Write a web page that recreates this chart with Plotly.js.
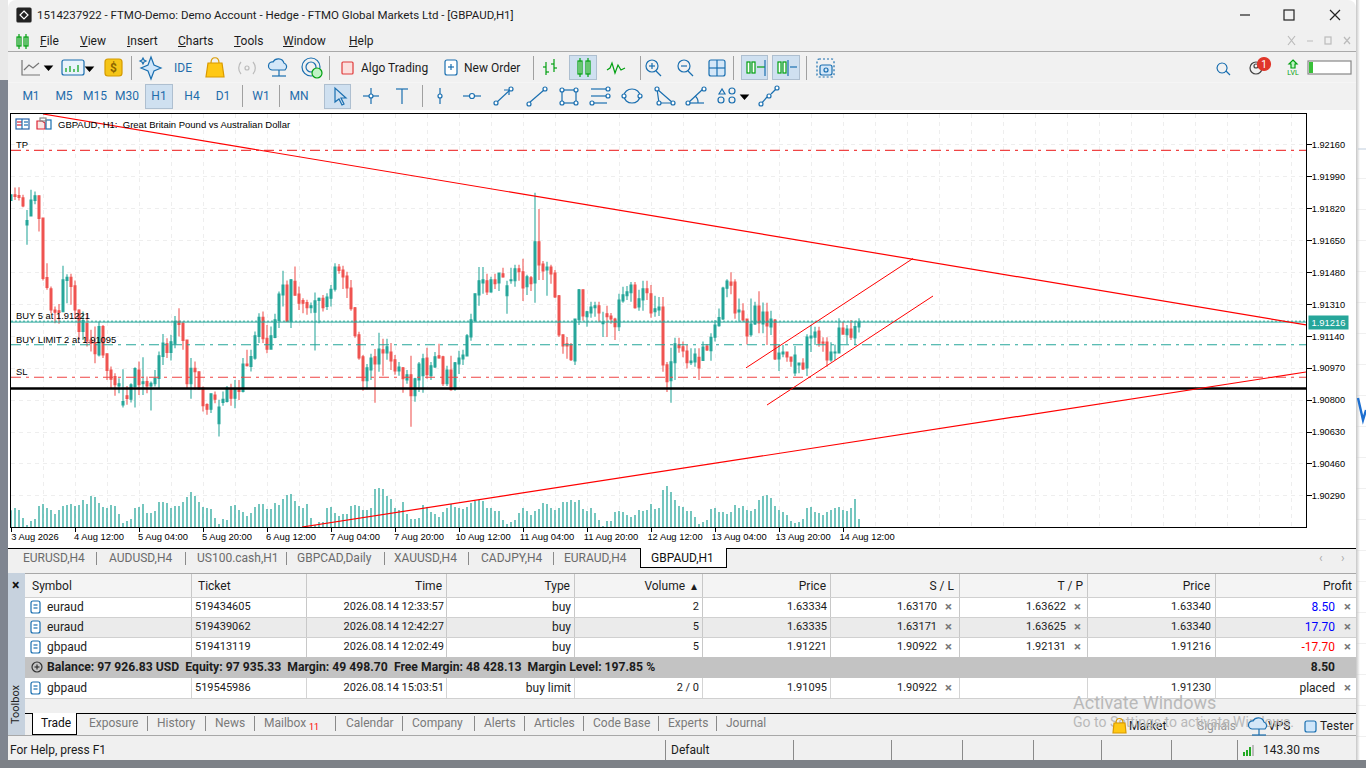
<!DOCTYPE html>
<html><head><meta charset="utf-8">
<script src="https://cdn.plot.ly/plotly-3.0.1.min.js"></script>
<style>
html,body{margin:0;padding:0;width:1366px;height:768px;overflow:hidden;background:#fff;font-family:Roboto,"Liberation Sans",sans-serif;}
#plot{position:absolute;left:0;top:0;width:1366px;height:768px;z-index:2;}
#chrome{position:absolute;left:0;top:0;width:1366px;height:768px;z-index:1;}
#over{position:absolute;left:0;top:0;width:1366px;height:768px;z-index:3;pointer-events:none;}
.b{position:absolute;}
.t{position:absolute;white-space:nowrap;line-height:14px;color:#1c1c1c;font-size:12px;}
</style></head><body>
<div id="chrome"></div><div id="plot"></div><div id="over"></div>
<script>
const openPrices=[1.91864,1.91894,1.91890,1.91878,1.91734,1.91782,1.91864,1.91889,1.91770,1.91454,
1.91393,1.91281,1.91276,1.91271,1.91438,1.91455,1.91409,1.91281,1.91166,1.91210,
1.91121,1.91107,1.91041,1.91192,1.91047,1.90961,1.90926,1.90876,1.90775,1.90823,
1.90805,1.90873,1.90961,1.90887,1.90899,1.90876,1.90887,1.90915,1.91033,1.91100,
1.91054,1.91100,1.91221,1.91210,1.91121,1.90887,1.90970,1.90951,1.90864,1.90777,
1.90752,1.90828,1.90674,1.90787,1.90793,1.90858,1.90810,1.90858,1.90846,1.90993,
1.90979,1.91024,1.91139,1.91242,1.91130,1.91072,1.91134,1.91224,1.91361,1.91414,
1.91221,1.91434,1.91366,1.91331,1.91320,1.91292,1.91269,1.91331,1.91343,1.91299,
1.91343,1.91391,1.91509,1.91494,1.91462,1.91398,1.91292,1.91148,1.91031,1.90903,
1.90961,1.91031,1.90993,1.91068,1.91052,1.91057,1.91015,1.90956,1.90972,1.90908,
1.90935,1.90823,1.90908,1.90930,1.91025,1.90930,1.90977,1.91036,1.91031,1.90887,
1.90961,1.90860,1.90993,1.91020,1.91036,1.91137,1.91223,1.91361,1.91425,1.91436,
1.91377,1.91441,1.91425,1.91473,1.91356,1.91436,1.91436,1.91500,1.91484,1.91404,
1.91452,1.91425,1.91644,1.91526,1.91494,1.91510,1.91478,1.91356,1.91148,1.91100,
1.91095,1.91009,1.91228,1.91388,1.91244,1.91265,1.91292,1.91303,1.91207,1.91260,
1.91249,1.91233,1.91191,1.91329,1.91356,1.91372,1.91414,1.91297,1.91334,1.91393,
1.91367,1.91271,1.91281,1.91297,1.90988,1.90903,1.90999,1.91095,1.91085,1.91062,
1.91000,1.91003,1.91028,1.91012,1.91088,1.91064,1.91135,1.91197,1.91232,1.91396,
1.91429,1.91429,1.91270,1.91275,1.91232,1.91149,1.91206,1.91302,1.91206,1.91270,
1.91190,1.91227,1.91019,1.91046,1.91056,1.91030,1.90945,1.90987,1.90998,1.90971,
1.91131,1.91136,1.91168,1.91110,1.91110,1.91014,1.91051,1.91051,1.91184,1.91149,
1.91179,1.91131,1.91190];
const closePrices=[1.91894,1.91885,1.91880,1.91835,1.91757,1.91867,1.91889,1.91768,1.91448,1.91400,
1.91281,1.91269,1.91267,1.91441,1.91455,1.91406,1.91281,1.91166,1.91224,1.91116,
1.91104,1.91047,1.91192,1.91041,1.90958,1.90912,1.90882,1.90887,1.90793,1.90809,
1.90882,1.90969,1.90882,1.90898,1.90876,1.90890,1.90917,1.91036,1.91104,1.91054,
1.91111,1.91221,1.91203,1.91118,1.90887,1.90970,1.90951,1.90860,1.90770,1.90752,
1.90834,1.90805,1.90763,1.90805,1.90864,1.90810,1.90858,1.90846,1.90993,1.90983,
1.91033,1.91143,1.91242,1.91128,1.91072,1.91143,1.91228,1.91366,1.91414,1.91221,
1.91441,1.91359,1.91317,1.91317,1.91292,1.91303,1.91329,1.91343,1.91292,1.91349,
1.91391,1.91509,1.91491,1.91457,1.91398,1.91287,1.91143,1.91025,1.90903,1.90972,
1.91025,1.90993,1.91073,1.91052,1.91084,1.91009,1.90956,1.90977,1.90914,1.90935,
1.90823,1.90914,1.90993,1.91020,1.90935,1.90983,1.91031,1.91025,1.90887,1.90961,
1.90855,1.90999,1.91025,1.91041,1.91143,1.91228,1.91367,1.91436,1.91441,1.91377,
1.91441,1.91420,1.91478,1.91457,1.91409,1.91441,1.91500,1.91484,1.91398,1.91457,
1.91420,1.91644,1.91521,1.91489,1.91510,1.91473,1.91350,1.91148,1.91089,1.91089,
1.91015,1.91233,1.91388,1.91249,1.91271,1.91297,1.91303,1.91265,1.91217,1.91244,
1.91233,1.91191,1.91334,1.91361,1.91377,1.91414,1.91292,1.91340,1.91393,1.91372,
1.91265,1.91287,1.91297,1.90988,1.90898,1.91004,1.91100,1.91079,1.91062,1.91000,
1.91008,1.91046,1.90971,1.91083,1.91067,1.91135,1.91200,1.91241,1.91398,1.91435,
1.91412,1.91264,1.91280,1.91227,1.91142,1.91206,1.91302,1.91211,1.91270,1.91195,
1.91232,1.91019,1.91051,1.91056,1.91030,1.91008,1.91040,1.90998,1.90966,1.91136,
1.91142,1.91163,1.91104,1.91104,1.91014,1.91056,1.91056,1.91184,1.91152,1.91179,
1.91136,1.91193,1.91216];
const highPrices=[1.91894,1.91933,1.91935,1.91894,1.91814,1.91921,1.91912,1.91889,1.91770,1.91530,
1.91406,1.91299,1.91313,1.91516,1.91471,1.91473,1.91438,1.91285,1.91272,1.91263,
1.91175,1.91192,1.91219,1.91201,1.91050,1.90979,1.90944,1.90917,1.90965,1.90876,
1.90890,1.90976,1.91006,1.91029,1.90926,1.90899,1.90961,1.91059,1.91153,1.91130,
1.91148,1.91249,1.91290,1.91219,1.91121,1.91024,1.91006,1.90953,1.90873,1.90784,
1.90837,1.90846,1.90802,1.90846,1.90876,1.90887,1.90908,1.90908,1.91024,1.91068,
1.91068,1.91166,1.91263,1.91272,1.91201,1.91192,1.91260,1.91379,1.91489,1.91438,
1.91446,1.91512,1.91406,1.91343,1.91335,1.91320,1.91374,1.91347,1.91361,1.91370,
1.91414,1.91530,1.91526,1.91516,1.91484,1.91441,1.91297,1.91164,1.91041,1.90993,
1.91047,1.91072,1.91159,1.91127,1.91127,1.91105,1.91041,1.91004,1.90977,1.90961,
1.91036,1.90919,1.91004,1.91047,1.91079,1.91004,1.91057,1.91100,1.91036,1.90983,
1.91036,1.91004,1.91063,1.91068,1.91153,1.91260,1.91367,1.91510,1.91510,1.91473,
1.91457,1.91473,1.91478,1.91505,1.91436,1.91505,1.91521,1.91521,1.91553,1.91468,
1.91462,1.91905,1.91819,1.91542,1.91537,1.91521,1.91494,1.91361,1.91148,1.91137,
1.91105,1.91233,1.91393,1.91388,1.91276,1.91324,1.91324,1.91324,1.91271,1.91303,
1.91265,1.91239,1.91367,1.91404,1.91409,1.91430,1.91430,1.91388,1.91436,1.91436,
1.91414,1.91356,1.91350,1.91350,1.91004,1.91079,1.91132,1.91132,1.91112,1.91094,
1.91076,1.91076,1.91076,1.91112,1.91099,1.91156,1.91227,1.91289,1.91405,1.91444,
1.91481,1.91444,1.91342,1.91316,1.91232,1.91342,1.91325,1.91380,1.91321,1.91319,
1.91277,1.91232,1.91094,1.91094,1.91058,1.91032,1.91088,1.91001,1.91023,1.91151,
1.91200,1.91191,1.91191,1.91135,1.91135,1.91108,1.91097,1.91236,1.91218,1.91200,
1.91227,1.91223,1.91236];
const lowPrices=[1.91864,1.91867,1.91864,1.91828,1.91628,1.91782,1.91844,1.91699,1.91438,1.91388,
1.91263,1.91210,1.91207,1.91271,1.91317,1.91308,1.91232,1.91121,1.91121,1.91086,
1.91059,1.90997,1.91033,1.91024,1.90908,1.90864,1.90823,1.90837,1.90761,1.90775,
1.90787,1.90761,1.90828,1.90828,1.90837,1.90745,1.90873,1.90864,1.90988,1.91024,
1.91011,1.91077,1.91139,1.91068,1.90864,1.90807,1.90855,1.90855,1.90739,1.90722,
1.90731,1.90784,1.90606,1.90770,1.90787,1.90770,1.90757,1.90801,1.90841,1.90979,
1.90953,1.91015,1.91104,1.91104,1.91050,1.91068,1.91130,1.91184,1.91299,1.91217,
1.91185,1.91356,1.91281,1.91263,1.91255,1.91263,1.91065,1.91210,1.91272,1.91281,
1.91299,1.91379,1.91473,1.91393,1.91345,1.91276,1.91132,1.91015,1.90850,1.90858,
1.90908,1.90786,1.90951,1.90930,1.91015,1.90961,1.90935,1.90930,1.90839,1.90887,
1.90658,1.90791,1.90844,1.90839,1.90914,1.90908,1.90972,1.91020,1.90876,1.90876,
1.90850,1.90850,1.90940,1.90988,1.91036,1.91116,1.91217,1.91303,1.91367,1.91361,
1.91372,1.91393,1.91382,1.91452,1.91260,1.91420,1.91404,1.91436,1.91329,1.91361,
1.91382,1.91319,1.91441,1.91441,1.91356,1.91420,1.91345,1.91137,1.91047,1.91020,
1.91009,1.90988,1.91201,1.91223,1.91191,1.91239,1.91244,1.91217,1.91137,1.91137,
1.91207,1.91121,1.91169,1.91319,1.91334,1.91324,1.91287,1.91276,1.91276,1.91334,
1.91239,1.91244,1.91249,1.90951,1.90844,1.90786,1.90908,1.91052,1.91028,1.90969,
1.90987,1.90978,1.90907,1.91012,1.91062,1.91010,1.91112,1.91191,1.91227,1.91348,
1.91364,1.91234,1.91218,1.91218,1.91097,1.91138,1.91200,1.91156,1.91156,1.91094,
1.91147,1.91014,1.90955,1.91028,1.91005,1.90978,1.90929,1.90943,1.90961,1.90929,
1.91056,1.91094,1.91085,1.91058,1.90978,1.91005,1.91014,1.91048,1.91151,1.91099,
1.91120,1.91094,1.91161];
const tickVolumes=[500,570,510,270,60,180,240,630,690,570,
510,390,510,630,660,690,630,660,810,690,
930,900,720,600,570,660,630,390,120,180,
240,570,600,690,420,420,480,750,750,720,
570,630,630,750,900,1050,930,750,600,570,
540,270,90,240,210,630,660,510,450,330,
420,600,690,690,540,540,720,660,840,960,
990,780,630,570,690,270,60,150,150,570,
600,420,330,390,390,630,660,630,510,510,
570,1140,1170,1140,930,840,570,510,750,390,
240,240,270,660,600,450,390,300,450,570,
690,600,570,540,600,720,780,810,780,570,
570,480,480,210,90,150,210,420,570,480,
360,480,540,720,690,570,510,570,750,750,
810,750,810,540,480,570,420,210,30,180,
180,450,480,450,360,300,360,510,480,510,
690,540,570,1110,1230,1050,810,630,600,480,
480,300,90,150,210,540,570,450,450,390,
450,660,570,630,510,480,540,810,930,960,
870,630,510,450,360,180,120,150,240,570,
600,450,420,360,450,510,570,600,510,480,
570,840,240];
const barIndex=openPrices.map((_,i)=>i);
const timeTickBars=[0,16,32,48,64,80,96,112,128,144,160,176,192,208];
const timeTickLabels=['3 Aug 2026','4 Aug 12:00','5 Aug 04:00','5 Aug 20:00','6 Aug 12:00','7 Aug 04:00','7 Aug 20:00','10 Aug 12:00','11 Aug 04:00','11 Aug 20:00','12 Aug 12:00','13 Aug 04:00','13 Aug 20:00','14 Aug 12:00'];
const priceTicks=[1.9216,1.9199,1.9182,1.9165,1.9148,1.9131,1.9114,1.9097,1.9080,1.9063,1.9046,1.9029];
const levelTP=1.92131, levelBuy=1.91221, levelBid=1.91216, levelLimit=1.91095, levelSL=1.90922, levelSupport=1.90862;
const levelSpan=[0,323.75];
const fallingTrendBars=[8,323.75], fallingTrendPrices=[1.92325,1.91201];
const risingTrendBars=[72.75,323.75], risingTrendPrices=[1.90124,1.90950];
const channelUpperBars=[183.75,225.5], channelUpperPrices=[1.90972,1.91555];
const channelLowerBars=[189,230.5], channelLowerPrices=[1.90774,1.91355];

const TEAL='#26a69a', RED='#ef5350';
const chartFont='"Liberation Sans",Arial,sans-serif';
function level(y,color,dash,width){return {type:'scatter',mode:'lines',x:levelSpan,y:[y,y],yaxis:'y2',hoverinfo:'skip',line:{color:color,dash:dash,width:width}};}
function trend(xs,ys,w){return {type:'scatter',mode:'lines',x:xs,y:ys,yaxis:'y2',hoverinfo:'skip',line:{color:'#ff0000',width:w}};}
const DD='10px,5px,3px,5px';
const traces=[
 {type:'bar',x:barIndex,y:tickVolumes,width:0.32,yaxis:'y',marker:{color:TEAL,line:{width:0}},hoverinfo:'skip'},
 {type:'candlestick',x:barIndex,open:openPrices,high:highPrices,low:lowPrices,close:closePrices,yaxis:'y2',
  width:0.5,whiskerwidth:0,hoverinfo:'skip',
  increasing:{line:{color:TEAL,width:1.05},fillcolor:TEAL},decreasing:{line:{color:RED,width:1.05},fillcolor:RED}},
 level(levelTP,'#ef4444',DD,1.1),
 level(levelSL,'#ef4444',DD,1.1),
 level(levelLimit,TEAL,DD,1.1),
 level(levelBuy,TEAL,'2px,2px',1),
 level(levelBid,TEAL,'solid',1),
 level(levelSupport,'#000000','solid',2.4),
 trend(fallingTrendBars,fallingTrendPrices,1.2),
 trend(risingTrendBars,risingTrendPrices,1.2),
 trend(channelUpperBars,channelUpperPrices,1),
 trend(channelLowerBars,channelLowerPrices,1)
];
function lvlNote(text,y){return {text:text,xref:'paper',x:0.0032,xanchor:'left',yref:'y2',y:y,yanchor:'bottom',yshift:-1,showarrow:false,borderpad:0,font:{family:chartFont,size:9.4,color:'#000'}};}
const layout={
 width:1366,height:768,showlegend:false,hovermode:false,dragmode:false,
 paper_bgcolor:'rgba(0,0,0,0)',plot_bgcolor:'#ffffff',
 margin:{l:11,r:60,t:114,b:241,pad:0},
 font:{family:chartFont,size:10,color:'#000'},
 xaxis:{range:levelSpan,type:'linear',tickmode:'array',tickvals:timeTickBars,ticktext:timeTickLabels,
  ticks:'outside',ticklen:4,tickcolor:'#000',tickwidth:1,ticklabelshift:24,ticklabelstandoff:-3,tickangle:0,
  showline:true,linecolor:'#000',linewidth:1,mirror:true,zeroline:false,
  showgrid:true,gridcolor:'#eeeeee',griddash:'4px,4px',gridwidth:1,
  minor:{tickmode:'linear',tick0:0,dtick:8,showgrid:true,gridcolor:'#eeeeee',griddash:'4px,4px',ticks:''},
  rangeslider:{visible:false},fixedrange:true,tickfont:{family:chartFont,size:9.4,color:'#000'}},
 yaxis:{range:[0,12390],visible:false,showgrid:false,zeroline:false,fixedrange:true},
 yaxis2:{range:[1.90124,1.92325],overlaying:'y',side:'right',tickmode:'array',tickvals:priceTicks,tickformat:'.5f',
  ticks:'outside',ticklen:5,tickcolor:'#000',showline:true,linecolor:'#000',mirror:true,zeroline:false,
  showgrid:true,gridcolor:'#eeeeee',griddash:'4px,4px',gridwidth:1,fixedrange:true,ticklabelstandoff:-2,
  tickfont:{family:chartFont,size:9.2,color:'#000'}},
 annotations:[
  {text:'GBPAUD, H1:  Great Britain Pound vs Australian Dollar',xref:'paper',x:0.0345,xanchor:'left',yref:'paper',y:0.9735,yanchor:'middle',showarrow:false,font:{family:chartFont,size:9.5,color:'#000'}},
  lvlNote('TP',levelTP),
  lvlNote('BUY 5 at 1.91221',levelBuy),
  lvlNote('BUY LIMIT 2 at 1.91095',levelLimit),
  lvlNote('SL',levelSL),
  {text:'1.91216',xref:'paper',x:1.0012,xanchor:'left',yref:'y2',y:levelBid,yanchor:'middle',showarrow:false,bgcolor:TEAL,borderpad:1,width:37,height:11,font:{family:chartFont,size:9.4,color:'#fff'}}
 ]
};
Plotly.newPlot('plot',traces,layout,{displayModeBar:false,staticPlot:true});

/* ---------- window chrome (real text, plain boxes) ---------- */
const C=document.getElementById('chrome'), O=document.getElementById('over');
function box(x,y,w,h,bg,extra,host){const d=document.createElement('div');d.className='b';d.style.cssText=`left:${x}px;top:${y}px;width:${w}px;height:${h}px;background:${bg};${extra||''}`;(host||C).appendChild(d);return d;}
function txt(x,yc,s,o){o=o||{};const d=document.createElement('div');d.className='t';
 let st=`top:${yc-7}px;`;
 if(o.right!==undefined)st+=`right:${1366-o.right}px;`;else st+=`left:${x}px;`;
 if(o.c)st+=`color:${o.c};`; if(o.s)st+=`font-size:${o.s}px;`; if(o.b)st+='font-weight:700;'; if(o.extra)st+=o.extra;
 d.style.cssText=st; d.innerHTML=s; (o.host||O).appendChild(d); return d;}
box(0,0,1366,768,'#ffffff');
box(0,0,8,80,'#e9e9e9'); box(0,80,8,688,'#7f8590');
box(1356,0,10,768,'#ffffff');
box(1356,148,10,620,'repeating-linear-gradient(to bottom,#fff 0 30px,#f0f0f0 30px 31px)');
box(1358,148,8,2,'#dfe6ee');
box(1356,0,4,768,'linear-gradient(to right,#c6c6c6,rgba(255,255,255,0))');
box(8,0,1348,110,'#f1f1f1','border-radius:8px 8px 0 0;');
box(8,30,1348,22,'#f0f0f0');
box(8,51,1348,1,'#a9a9a9');
box(8,110,1348,438,'#ffffff');
box(8,548,1348,212,'#f0f0f0');
box(0,760,1366,8,'#7d8187');
// chart tabs
box(8,548,1348,1,'#000');
const tabNames=['EURUSD,H4','AUDUSD,H4','US100.cash,H1','GBPCAD,Daily','XAUUSD,H4','CADJPY,H4','EURAUD,H4'];
const tabX=[23,109,197,297,394,481,564], tabSep=[96,185,286,384,468,553,640];
tabNames.forEach((n,i)=>{txt(tabX[i],558,n,{c:'#6b6b6b',s:12});box(tabSep[i],552,1,13,'#8a8a8a');});
box(640,548,87,20,'#ffffff','border:1px solid #000;border-top:none;box-sizing:border-box;');
txt(651,558,'GBPAUD,H1',{c:'#111',s:12});
txt(1319,558,'‹',{c:'#aaa',s:12});txt(1341,558,'›',{c:'#aaa',s:12});
// toolbox
box(8,573,17,162,'#c7d2de');
txt(12,585,'×',{c:'#111',s:14,b:1});
txt(-6,702,'Toolbox',{c:'#222',s:11,extra:'transform:rotate(-90deg);transform-origin:center;width:44px;'});
box(25,573,1331,125,'#ffffff');
box(25,573,1331,1,'#a8a8a8');
box(25,574,1331,23,'#f4f4f4');
const colEdges=[191,306,446,574,702,830,959,1087,1215];
const headers=['Symbol','Ticket','Time','Type','Volume &nbsp;▴','Price','S / L','T / P','Price','Profit'];
const headRight=[0,0,442,570,697,826,954,1083,1210,1352];
const rowsSymbol=['euraud','euraud','gbpaud','gbpaud'];
const rowsTicket=['519434605','519439062','519413119','519545986'];
const rowsTime=['2026.08.14 12:33:57','2026.08.14 12:42:27','2026.08.14 12:02:49','2026.08.14 15:03:51'];
const rowsType=['buy','buy','buy','buy limit'];
const rowsVolume=['2','5','5','2 / 0'];
const rowsOpen=['1.63334','1.63335','1.91221','1.91095'];
const rowsSL=['1.63170','1.63171','1.90922','1.90922'];
const rowsTP=['1.63622','1.63625','1.92131',''];
const rowsCurrent=['1.63340','1.63340','1.91216','1.91230'];
const rowsProfit=['8.50','17.70','-17.70','placed'];
const profitColors=['#0000ff','#0000ff','#ff0000','#222'];
const rowY=[607,627,647,688];
box(25,617,1331,20,'#ebebeb');
box(25,657,1331,21,'#c3c3c3');
colEdges.forEach(x=>box(x,574,1,83,'#c8c8c8'));
colEdges.forEach(x=>box(x,678,1,20,'#d4d4d4'));
[597,617,637,698].forEach(y=>box(25,y,1331,1,'#d0d0d0'));
txt(32,586,headers[0],{s:12}); txt(198,586,headers[1],{s:12});
for(let i=2;i<10;i++)txt(0,586,headers[i],{right:headRight[i],s:12});
const FS=11;
rowY.forEach((y,r)=>{
 txt(47,y,rowsSymbol[r],{s:12});
 txt(195,y,rowsTicket[r],{s:FS});
 txt(0,y,rowsTime[r],{right:444,s:FS});
 txt(0,y,rowsType[r],{right:571,s:12});
 txt(0,y,rowsVolume[r],{right:699,s:FS});
 txt(0,y,rowsOpen[r],{right:827,s:FS});
 txt(0,y,rowsSL[r],{right:937,s:FS});
 if(rowsTP[r])txt(0,y,rowsTP[r],{right:1066,s:FS});
 txt(0,y,rowsCurrent[r],{right:1211,s:FS});
 txt(0,y,rowsProfit[r],{right:1335,s:12,c:profitColors[r]});
 txt(945,y,'×',{c:'#777',s:13,b:1});
 if(rowsTP[r])txt(1074,y,'×',{c:'#777',s:13,b:1});
 txt(1344,y,'×',{c:'#777',s:13,b:1});
});
txt(47,667,'Balance: 97 926.83 USD &nbsp;Equity: 97 935.33 &nbsp;Margin: 49 498.70 &nbsp;Free Margin: 48 428.13 &nbsp;Margin Level: 197.85 %',{b:1,s:12.2});
txt(0,667,'8.50',{right:1335,b:1,s:12});
// bottom tabs
box(25,713,1331,1,'#000');
box(32,713,45,22,'#fff','border:1px solid #000;border-top:none;box-sizing:border-box;');
box(8,735,1348,1,'#a8a8a8');
txt(41,723,'Trade',{c:'#111',s:12});
const bottomTabs=['Exposure','History','News','Mailbox','Calendar','Company','Alerts','Articles','Code Base','Experts','Journal'];
const bottomX=[89,157,215,264,346,412,484,534,593,668,726];
const bottomSep=[147,205,254,335,402,474,524,583,658,716];
bottomTabs.forEach((n,i)=>txt(bottomX[i],723,n,{c:'#7a7a7a',s:12}));
bottomSep.forEach(x=>box(x,716,1,15,'#8a8a8a'));
txt(309,727,'11',{c:'#ff0000',s:9});
txt(1129,726,'Market',{s:12}); txt(1197,726,'Signals',{c:'#9a9a9a',s:12}); txt(1268,726,'VPS',{s:12}); txt(1320,726,'Tester',{s:12});
txt(1073,700,'Activate Windows',{c:'#b9b9b9',s:18,extra:'line-height:20px;'});
txt(1073,722,'Go to Settings to activate Windows.',{c:'#b9b9b9',s:14});
// status
txt(10,750,'For Help, press F1',{s:12});
txt(671,750,'Default',{s:12});
[665,793,891,962,1033,1101,1171,1237].forEach(x=>box(x,740,1,20,'#8a8a8a'));
txt(1263,750,'143.30 ms',{s:12});
// title + menu
txt(37,15,'1514237922 - FTMO-Demo: Demo Account - Hedge - FTMO Global Markets Ltd - [GBPAUD,H1]',{s:11.5});
const menuItems=['<u>F</u>ile','<u>V</u>iew','<u>I</u>nsert','<u>C</u>harts','<u>T</u>ools','<u>W</u>indow','<u>H</u>elp'];
const menuX=[40,80,127,178,234,283,349];
menuItems.forEach((m,i)=>txt(menuX[i],41,m,{s:12}));
// toolbars: highlights + text
[[145,84,28,25],[569,55,28,25],[741,55,27,25],[772,55,28,25],[324,84,27,25]].forEach(r=>box(r[0],r[1],r[2],r[3],'#cfe0f0','border:1px solid #aebfd0;box-sizing:border-box;'));
[131,329,533,640,733,806].forEach(x=>box(x,56,1,24,'#a0a0a0'));
[[242],[279],[422]].forEach(a=>box(a[0],85,1,22,'#a0a0a0'));
box(8,82,1348,1,'#f5f5f5');
const tfLabels=['M1','M5','M15','M30','H1','H4','D1','W1','MN'];
const tfCenter=[31,64,95,127,159,192,223,261,299];
tfLabels.forEach((l,i)=>{const d=txt(tfCenter[i]-20,96,l,{c:'#1f6cab',s:12});d.style.width='40px';d.style.textAlign='center';});
txt(174,68,'IDE',{c:'#1f6cab',s:12});
txt(361,68,'Algo Trading',{s:12});
txt(464,68,'New Order',{s:12});
// icons
const B='#1a6fb0',G='#00a010';
const L=(a,b,c,d,col,w)=>`<line x1="${a}" y1="${b}" x2="${c}" y2="${d}" stroke="${col||B}" stroke-width="${w||1.2}"/>`;
const R=(x,y,w,h,s,f,rx)=>`<rect x="${x}" y="${y}" width="${w}" height="${h}" stroke="${s||B}" fill="${f||'none'}" rx="${rx||0}" stroke-width="1.2"/>`;
const CI=(x,y,r,s,f)=>`<circle cx="${x}" cy="${y}" r="${r}" stroke="${s||B}" fill="${f||'none'}" stroke-width="1.2"/>`;
const P=(d,s,f,w)=>`<path d="${d}" stroke="${s||B}" fill="${f||'none'}" stroke-width="${w||1.2}"/>`;
let svg='';
svg+=R(17,8,14,14,'#222','#222',1)+P('M24 11l4 4-4 4-4-4z','#fff','#222');
svg+=R(17,37,4,9,G)+L(19,34,19,49,G)+R(24,37,4,9,G)+L(26,34,26,49,G);
svg+=P('M22 60v15h18M24 70l5-5 4 3 6-5','#777')+P('M45 66h7l-3.5 4z','#000','#000');
svg+=R(62,60,22,15,B,'#eaf3fb',2)+L(66,72,66,68,G)+L(70,72,70,66,G)+L(74,72,74,69,G)+L(78,72,78,65,G)+P('M86 67h7l-3.5 4z','#000','#000');
svg+=R(105,59,17,17,'#d59b00','#f5c518',3)+`<text x="113.5" y="72" font-size="12" text-anchor="middle" font-weight="700" fill="#8c6500">$</text>`;
svg+=P('M151 57l3 8 7 3-7 3-3 8-3-8-7-3 7-3z',B,'#cfe6fa')+P('M143 58l1 2 2 1-2 1-1 2-1-2-2-1 2-1z',B);
svg+=P('M208 63h14l2 14h-18z','#d99a00','#ffc814')+P('M211 63c0-7 8-7 8 0','#d99a00');
svg+=CI(247,68,2,'#bbb')+P('M241 62a9 9 0 0 0 0 12M253 62a9 9 0 0 1 0 12','#bbb');
svg+=P('M272 70a4 4 0 0 1 1-8 6 6 0 0 1 11 1 4 4 0 0 1 1 7z',B,'#d4e7f8')+L(279,70,279,76)+L(272,76,286,76);
svg+=CI(311,67,9,B)+CI(311,67,5,B)+CI(317,73,5,G,'#bff3c5');
svg+=R(342,62,11,12,'#e03a3a','#fbe0de',1);
svg+=R(445,60,12,15,B,'#fff',2)+L(448,67,454,67)+L(451,64,451,70);
svg+=L(546,62,546,75,G)+L(546,67,543,67,G)+L(546,72,549,72,G)+L(554,59,554,72,G)+L(554,64,551,64,G)+L(554,68,557,68,G);
svg+=R(578,61,4,13,G,'#fff')+L(580,58,580,77,G)+R(586,61,4,13,G,'#fff')+L(588,58,588,77,G);
svg+=P('M607 70l3-2 2-5 3 10 3-8 3 5 4-2',G);
svg+=CI(652,66,6)+L(652,63,652,69)+L(649,66,655,66)+L(656,71,661,76);
svg+=CI(684,66,6)+L(681,66,687,66)+L(688,71,693,76);
svg+=R(709,60,16,16,B,'#d4e7f8',2)+L(717,60,717,76)+L(709,68,725,68);
svg+=R(747,62,3,11,G,'#fff')+R(752,62,3,11,G,'#fff')+L(757,67,765,67,G)+L(765,60,765,76,B);
svg+=R(778,62,3,11,G,'#fff')+R(783,62,3,11,G,'#fff')+L(788,60,788,76,B)+L(790,67,797,67,B);
svg+=R(817,59,17,18,B,'none',2).replace('<rect','<rect stroke-dasharray="2 2"')+R(820,65,12,10,B,'#d4e7f8',2)+CI(826,70,2);
svg+=P('M1222 63a5 5 0 1 0 .1 0M1226 71l4 4');
svg+=CI(1256,68,6,'#444')+CI(1256,66,2,'#444');
svg+=CI(1264,64,6.5,'#e0362a','#e0362a')+`<text x="1264" y="68" font-size="10" fill="#fff" text-anchor="middle">1</text>`;
svg+=P('M1293 60l4 4h-2v4h-4v-4h-2z',G,'#bff3c5')+`<text x="1293" y="75" font-size="7" fill="${G}" text-anchor="middle">LVL</text>`;
svg+=R(1308,61,43,13,'#888','#fff')+`<rect x="1309" y="62" width="4" height="11" fill="#38c038"/>`;
svg+=P('M1240 15h10','#222')+R(1284,10,10,10,'#222')+P('M1330 10l10 10M1340 10l-10 10','#222');
svg+=P('M1288 36l7 9M1295 36l-7 9M1307 41h6','#bbb')+R(1325,37,6,7,'#bbb')+P('M1344 37l6 7M1350 37l-6 7','#bbb');
svg+=P('M335 88v14l4-3 3 6 2-1-3-6h5z',B,'#cfe0f0');
svg+=L(371,88,371,104)+L(363,96,379,96)+CI(371,96,2,B,'#fff');
svg+=L(396,89,408,89)+L(402,89,402,104);
svg+=L(440,88,440,104)+CI(440,96,2,B,'#fff');
svg+=L(463,96,481,96)+CI(472,96,2.5,B,'#fff');
svg+=L(496,103,510,90)+CI(496,103,2,B,'#fff')+CI(511,89,2,B,'#fff')+P('M504 90h5v5');
svg+=L(529,103,544,90)+CI(529,104,2,B,'#fff')+CI(545,89,2,B,'#fff');
svg+=R(562,90,14,13)+[[562,90],[576,90],[562,103],[576,103]].map(a=>CI(a[0],a[1],2,B,'#fff')).join('');
svg+=L(591,89,607,89)+L(591,96,607,96)+L(591,103,607,103)+CI(608,89,2,B,'#fff')+CI(608,96,2,B,'#fff')+CI(592,103,2,B,'#fff');
svg+=`<ellipse cx="632" cy="96" rx="8" ry="7" stroke="${B}" fill="none" stroke-width="1.2"/>`+CI(624,96,2,B,'#fff')+CI(640,96,2,B,'#fff');
svg+=P('M657 89l2 14 14 0z')+CI(657,89,2,B,'#fff')+CI(659,103,2,B,'#fff')+CI(673,103,2,B,'#fff');
svg+=L(688,103,704,103)+L(688,103,703,89)+P('M695 96a8 8 0 0 1 3 7')+CI(688,103,2,B,'#fff')+CI(704,89,2,B,'#fff');
svg+=P('M722 89l-3 5h6z')+CI(732,91,3)+CI(721,100,3)+CI(732,100,3)+P('M741 95h7l-3.5 4z','#000','#000');
svg+=L(761,104,767,97)+L(771,94,777,88)+CI(761,104,2,B,'#fff')+CI(769,96,2,B,'#fff')+CI(777,88,2,B,'#fff');
// chart header icons
svg+=R(16,119,13,10,'#2a64a8')+L(17,122,22,122,'#d23')+L(17,125,22,125,'#d23')+L(24,122,28,122)+L(24,125,28,125)+L(22,119,22,129);
svg+=P('M37 121h5l3 2v6h-8z','#d23','#fbe6e4')+R(46,120,5,9)+R(40,118,6,3,'#888');
// table doc icons
[607,627,647,688].forEach(y=>{svg+=R(31,y-6,9,12,B,'#fff',2)+L(33.5,y-2,37.5,y-2)+L(33.5,y+1,37.5,y+1);});
svg+=CI(37,667,5,'#333')+L(34.5,667,39.5,667,'#333')+L(37,664.5,37,669.5,'#333');
// bottom icons
svg+=P('M1114 723h11l1 10h-13z','#d99a00','#ffc814')+P('M1116 723c0-6 7-6 7 0','#d99a00');
svg+=P('M1252 729a4 4 0 0 1 1-8 6 6 0 0 1 11 1 4 4 0 0 1 1 7z',B,'#d4e7f8')+L(1259,729,1259,735)+L(1252,735,1266,735);
svg+=R(1305,721,11,11,B,'#cfe6fa',2);
svg+=`<rect x="1243" y="752" width="2" height="4" fill="#2a2"/><rect x="1246" y="750" width="2" height="6" fill="#2a2"/><rect x="1249" y="747" width="2" height="9" fill="#2a2"/><rect x="1252" y="745" width="2" height="11" fill="#bbb"/>`;
svg+=P('M1358 398l5 22 3-10','#1d6fd0','none',2.4);
const holder=document.createElement('div');
holder.innerHTML=`<svg width="1366" height="768" style="position:absolute;left:0;top:0;font-family:Roboto">${svg}</svg>`;
O.appendChild(holder);
</script>
</body></html>
